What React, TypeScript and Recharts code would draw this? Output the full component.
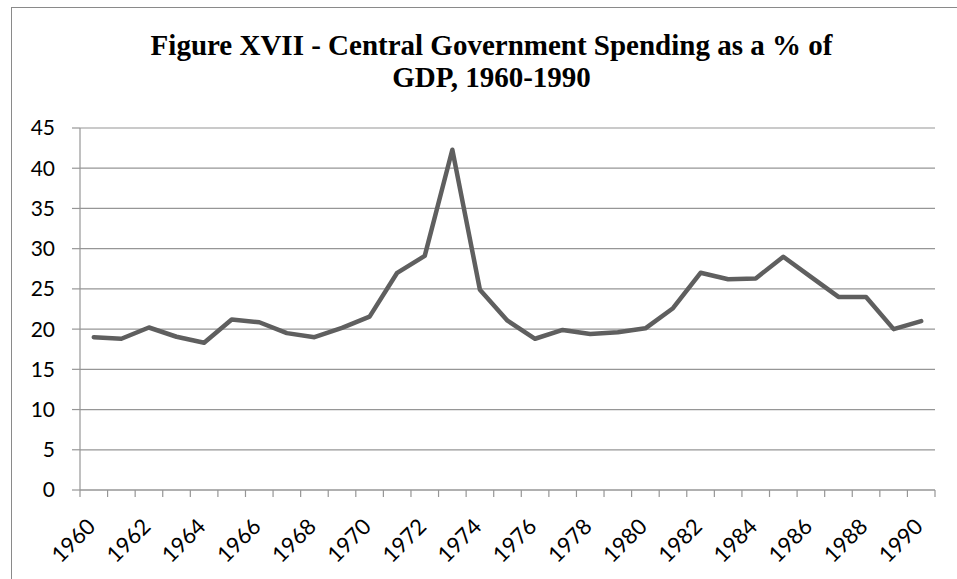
import { LineChart, Line, XAxis, YAxis, CartesianGrid } from 'recharts'

const years = [
  1960, 1961, 1962, 1963, 1964, 1965, 1966, 1967, 1968, 1969,
  1970, 1971, 1972, 1973, 1974, 1975, 1976, 1977, 1978, 1979,
  1980, 1981, 1982, 1983, 1984, 1985, 1986, 1987, 1988, 1989, 1990,
]

const spending = [
  19.0, 18.8, 20.2, 19.05, 18.3, 21.2, 20.85, 19.5, 19.0, 20.15,
  21.55, 27.0, 29.1, 42.3, 24.9, 21.05, 18.8, 19.9, 19.4, 19.6,
  20.1, 22.6, 27.0, 26.2, 26.3, 29.0, 26.5, 24.0, 24.0, 20.0, 21.0,
]

const yTicks = [0, 5, 10, 15, 20, 25, 30, 35, 40, 45]
const labelYears = years.filter((y) => (y - 1960) % 2 === 0)
const markTicks = [...years.map((y) => y - 0.5), years[years.length - 1] + 0.5]

const data = years.map((year, i) => ({ year, value: spending[i] }))

const FONT = 'Lato, "Open Sans", sans-serif'
const GRID = '#969696'

function NoTick() {
  return <g />
}

function YearTick({ x, y, payload }: any) {
  return (
    <g transform={`translate(${x + 3},${y + 31})`}>
      <text
        textAnchor="end"
        transform="rotate(-45)"
        fontSize={22}
        fontFamily={FONT}
        fill="#000"
      >
        {payload.value}
      </text>
    </g>
  )
}

export default function App() {
  return (
    <div style={{ position: 'absolute', left: 0, top: 0, width: 957, height: 579, background: '#fff', overflow: 'hidden' }}>
      <div
        style={{
          position: 'absolute',
          left: 11,
          top: 7,
          width: 980,
          height: 620,
          borderLeft: '1.5px solid #8a8a8a',
          borderTop: '1.5px solid #8a8a8a',
        }}
      />
      <div
        style={{
          position: 'absolute',
          left: 0,
          width: 983,
          top: 29,
          textAlign: 'center',
          fontFamily: '"Liberation Serif", "Times New Roman", serif',
          fontWeight: 'bold',
          fontSize: 29,
          lineHeight: '32px',
        }}
      >
        Figure XVII - Central Government Spending as a % of
        <br />
        GDP, 1960-1990
      </div>
      <div style={{ position: 'absolute', left: 0, top: 0 }}>
        <LineChart width={957} height={579} data={data} margin={{ top: 128, right: 22, bottom: 0, left: 0 }}>
          <CartesianGrid xAxisId="a_marks" vertical={false} stroke={GRID} strokeWidth={1.2} />
          <XAxis
            xAxisId="a_marks"
            dataKey="year"
            type="number"
            domain={[1959.5, 1990.5]}
            ticks={markTicks}
            interval={0}
            tick={NoTick}
            tickSize={7}
            height={7}
            axisLine={{ stroke: GRID, strokeWidth: 1.2 }}
            tickLine={{ stroke: GRID, strokeWidth: 1.2 }}
          />
          <XAxis
            xAxisId="b_labels"
            dataKey="year"
            type="number"
            domain={[1959.5, 1990.5]}
            ticks={labelYears}
            interval={0}
            tick={YearTick}
            tickSize={0}
            tickMargin={0}
            height={82}
            axisLine={false}
            tickLine={false}
          />
          <YAxis
            domain={[0, 45]}
            ticks={yTicks}
            interval={0}
            width={80}
            tickSize={8}
            tickMargin={17}
            tick={{ fontSize: 21, fontFamily: FONT, fill: '#000' }}
            axisLine={{ stroke: GRID, strokeWidth: 1.2 }}
            tickLine={{ stroke: GRID, strokeWidth: 1.2 }}
          />
          <Line
            xAxisId="a_marks"
            dataKey="value"
            type="linear"
            stroke="#5f5f5f"
            strokeWidth={4.5}
            strokeLinejoin="round"
            strokeLinecap="round"
            dot={false}
            isAnimationActive={false}
          />
        </LineChart>
      </div>
    </div>
  )
}
